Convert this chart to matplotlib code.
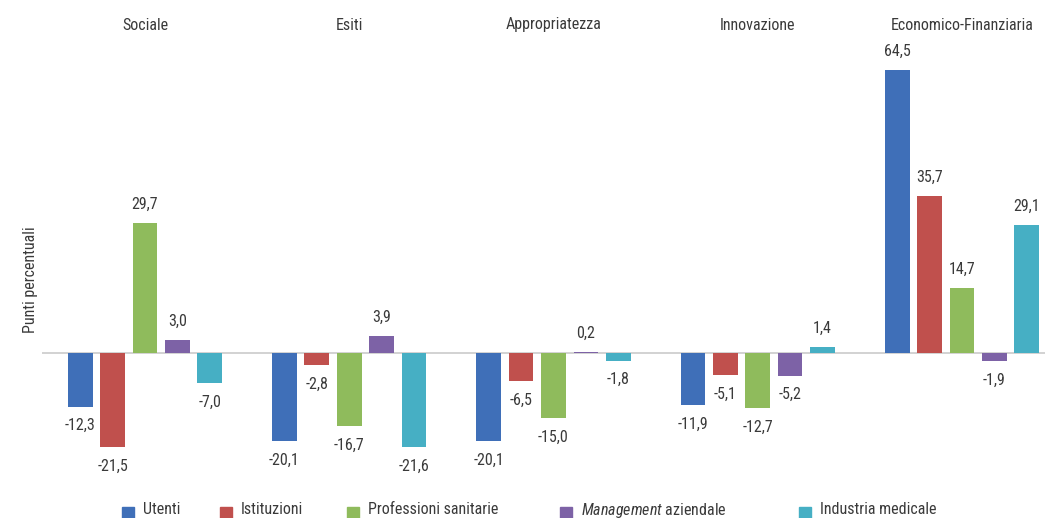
import matplotlib
matplotlib.use("Agg")
import matplotlib.pyplot as plt
import numpy as np
from matplotlib.patches import Rectangle

plt.rcParams['font.family'] = ['Roboto Condensed', 'DejaVu Sans']
plt.rcParams['mathtext.fontset'] = 'custom'
plt.rcParams['mathtext.it'] = 'Roboto Condensed:italic'
plt.rcParams['mathtext.rm'] = 'Roboto Condensed'

categories = ['Sociale', 'Esiti', 'Appropriatezza', 'Innovazione', 'Economico-Finanziaria']
series = ['Utenti', 'Istituzioni', 'Professioni sanitarie',
          r'$\it{Management}$ aziendale', 'Industria medicale']
utenti = [-12.3, -20.1, -20.1, -11.9, 64.5]
istituzioni = [-21.5, -2.8, -6.5, -5.1, 35.7]
professioni = [29.7, -16.7, -15.0, -12.7, 14.7]
management = [3.0, 3.9, 0.2, -5.2, -1.9]
industria = [-7.0, -21.6, -1.8, 1.4, 29.1]
values = [utenti, istituzioni, professioni, management, industria]
colors = ['#3F6FB8', '#C0504D', '#8FBB5C', '#7D62A6', '#46AFC4']
text_color = '#3A3A3A'

W, H = 1046, 518
fig = plt.figure(figsize=(W / 100, H / 100), dpi=100)
# axes placed in pixel terms
left, right, top, bottom = 42, 1045, 50, 480
ax = fig.add_axes([left / W, 1 - bottom / H, (right - left) / W, (bottom - top) / H])

step = 0.1586
width = 0.121
x = np.arange(len(categories))
for i, (vals, c) in enumerate(zip(values, colors)):
    pos = x + (i - 2) * step
    ax.bar(pos, vals, width, color=c, linewidth=0, zorder=2)
    for p, v in zip(pos, vals):
        lab = f"{v:.1f}".replace('.', ',')
        off = 13.3 if v >= 0 else -13.8
        ax.annotate(lab, (p, v), xytext=(0, off), textcoords='offset points',
                    ha='center', va='center', fontsize=11.5, color=text_color)

ax.set_xlim(-0.5043, 4.4064)
ax.set_ylim(-29.04, 69.06)
ax.axhline(0, color='#CFCFCF', linewidth=1.3, zorder=1)
ax.axis('off')

# category names along the top
for xi, cat in zip(x, categories):
    ax.annotate(cat, (xi, 1.0), xycoords=ax.get_xaxis_transform(),
                xytext=(0, top - 25), textcoords='offset pixels',
                ha='center', va='center', fontsize=11.5, color=text_color)

fig.text(30 / W, 1 - 280 / H, 'Punti percentuali', rotation=90,
         ha='center', va='center', fontsize=11.5, color=text_color)

# legend
leg_x = [122, 220, 347, 560, 799]
for lx, lab, c in zip(leg_x, series, colors):
    fig.patches.append(Rectangle((lx / W, 1 - 519 / H), 12 / W, 12 / H,
                                 transform=fig.transFigure, color=c))
    fig.text((lx + 21) / W, 1 - 510 / H, lab, ha='left', va='center',
             fontsize=11.5, color=text_color)

fig.savefig('out.png', dpi=100)
